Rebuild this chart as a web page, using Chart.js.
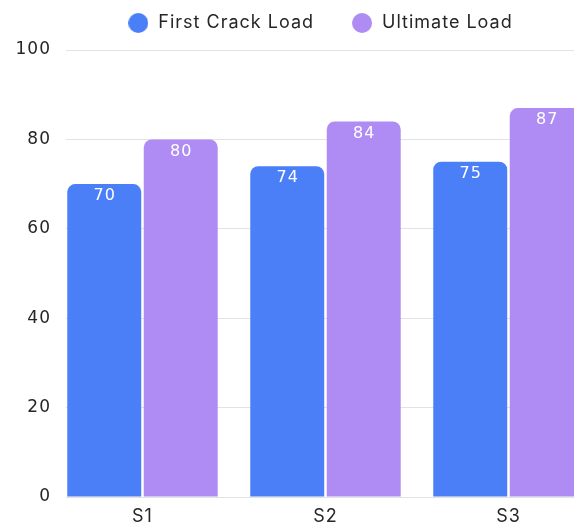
<!DOCTYPE html>
<html>
<head>
<meta charset="utf-8">
<script src="https://cdn.jsdelivr.net/npm/chart.js@4"></script>
<style>
  html, body { margin: 0; padding: 0; background: #fff; }
  #wrap { width: 574px; height: 527px; position: relative; }
</style>
</head>
<body>
<div id="wrap"><canvas id="loadChart"></canvas></div>
<script>
// chart data
const categories = ["S1", "S2", "S3"];
const firstCrack = [70, 74, 75];
const ultimate = [80, 84, 87];
const yTicks = [0, 20, 40, 60, 80, 100];

const blue = "#4b7ff7";
const purple = "#ae8cf4";
const textColor = "#262626";
const textFont = "Inter, sans-serif";
const numberFont = "'DejaVu Sans', sans-serif";

// round legend marker, a bit bigger than the default
function legendDot(color) {
  const c = document.createElement("canvas");
  c.width = 20;
  c.height = 20;
  const g = c.getContext("2d");
  g.fillStyle = color;
  g.beginPath();
  g.arc(10, 10, 10, 0, Math.PI * 2);
  g.fill();
  return c;
}

// wider text, like the original font
const spacing = {
  id: "spacing",
  beforeLayout(chart) {
    chart.ctx.letterSpacing = "1px";
  },
  beforeDraw(chart) {
    chart.ctx.letterSpacing = "1px";
  },
};

// white value labels inside the top of each bar
const barLabels = {
  id: "barLabels",
  afterDatasetsDraw(chart) {
    const ctx = chart.ctx;
    ctx.save();
    ctx.fillStyle = "#ffffff";
    ctx.font = "16px " + numberFont;
    ctx.textAlign = "center";
    ctx.textBaseline = "middle";
    chart.data.datasets.forEach((ds, i) => {
      chart.getDatasetMeta(i).data.forEach((bar, j) => {
        ctx.fillText(ds.data[j].y, bar.x + 0.5, bar.y + 12);
      });
    });
    ctx.restore();
  },
};

// fixed legend height so the plot starts at the 100 line
const legendSpace = {
  id: "legendSpace",
  beforeInit(chart) {
    const fit = chart.legend.fit;
    chart.legend.fit = function () {
      fit.call(this);
      this.height = 73;
    };
  },
};

const toPoints = (values) => values.map((v, i) => ({ x: i, y: v }));

const ctx = document.getElementById("loadChart").getContext("2d");
new Chart(ctx, {
  type: "bar",
  data: {
    datasets: [
      {
        label: "First Crack Load",
        data: toPoints(firstCrack),
        backgroundColor: blue,
        pointStyle: legendDot(blue),
        borderRadius: { topLeft: 8, topRight: 8 },
        borderSkipped: "start",
        categoryPercentage: 0.836,
        barPercentage: 0.967,
      },
      {
        label: "Ultimate Load",
        data: toPoints(ultimate),
        backgroundColor: purple,
        pointStyle: legendDot(purple),
        borderRadius: { topLeft: 8, topRight: 8 },
        borderSkipped: "start",
        categoryPercentage: 0.836,
        barPercentage: 0.967,
      },
    ],
  },
  options: {
    responsive: true,
    maintainAspectRatio: false,
    animation: false,
    layout: { padding: { top: -23, right: 0, left: 4, bottom: 0 } },
    plugins: {
      tooltip: { enabled: false },
      legend: {
        position: "top",
        fullSize: false,
        labels: {
          usePointStyle: true,
          pointStyleWidth: 22,
          boxHeight: 14,
          padding: 37,
          color: textColor,
          font: { family: textFont, size: 18 },
        },
      },
    },
    scales: {
      x: {
        type: "linear",
        offset: false,
        min: -0.418,
        max: 2.358,
        grid: { display: false },
        border: { display: false },
        afterBuildTicks: (scale) => {
          scale.ticks = categories.map((c, i) => ({ value: i }));
        },
        afterFit: (scale) => {
          scale.height = 30;
        },
        ticks: {
          color: textColor,
          font: { family: textFont, size: 18 },
          maxRotation: 0,
          padding: 1,
          callback: (v) => categories[v],
        },
      },
      y: {
        min: 0,
        max: 100,
        afterBuildTicks: (scale) => {
          scale.ticks = yTicks.map((v) => ({ value: v }));
        },
        afterFit: (scale) => {
          scale.width = 62;
        },
        grid: { color: "#e2e2e2", drawTicks: false },
        border: { display: false },
        ticks: {
          color: textColor,
          padding: 15,
          font: { family: numberFont, size: 17 },
        },
      },
    },
  },
  plugins: [spacing, barLabels, legendSpace],
});
</script>
</body>
</html>
